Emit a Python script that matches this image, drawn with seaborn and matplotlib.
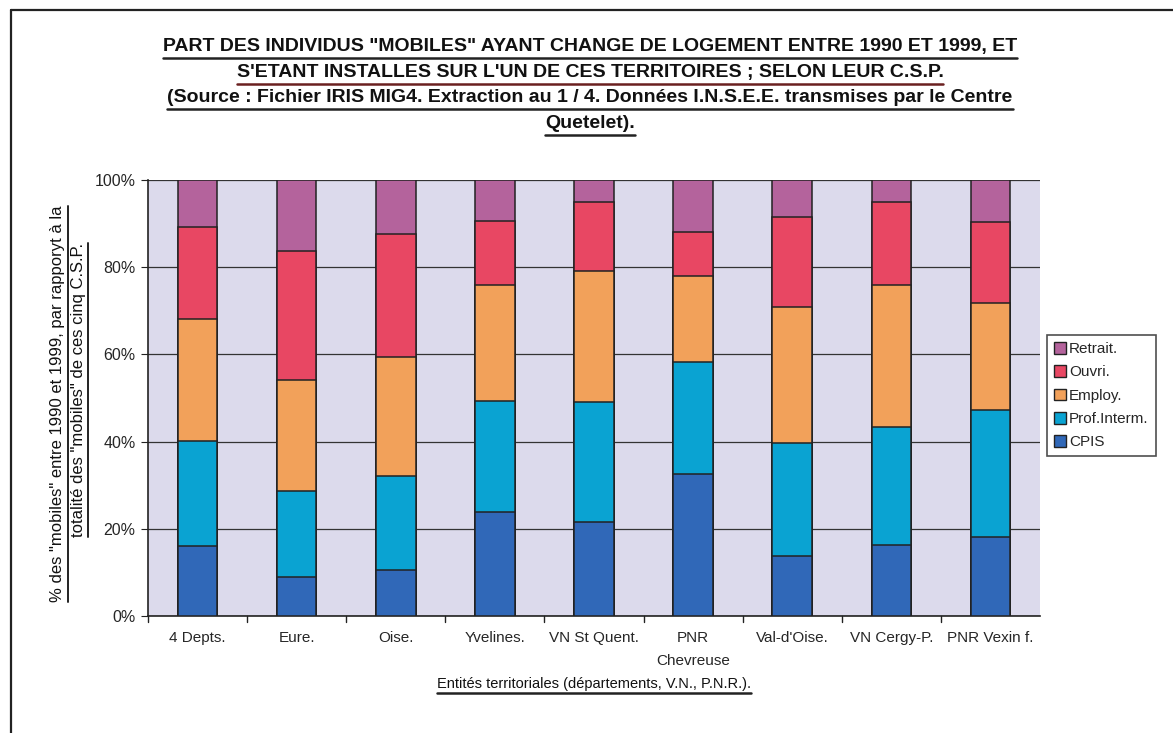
import matplotlib
matplotlib.use("Agg")
import matplotlib.pyplot as plt
from matplotlib.lines import Line2D
from matplotlib.patches import Rectangle
import seaborn as sns
import pandas as pd
import numpy as np

categories = ["4 Depts.", "Eure.", "Oise.", "Yvelines.", "VN St Quent.", "PNR\nChevreuse",
              "Val-d'Oise.", "VN Cergy-P.", "PNR Vexin f."]
series = ["CPIS", "Prof.Interm.", "Employ.", "Ouvri.", "Retrait."]
cpis = [16.1, 8.9, 10.6, 23.9, 21.6, 32.6, 13.8, 16.3, 18.1]
prof = [24.0, 19.8, 21.5, 25.4, 27.5, 25.7, 25.9, 27.0, 29.1]
employ = [28.0, 25.4, 27.3, 26.6, 30.0, 19.7, 31.2, 32.6, 24.6]
ouvri = [21.1, 29.6, 28.2, 14.7, 15.9, 10.1, 20.6, 19.1, 18.6]
retrait = [10.8, 16.3, 12.4, 9.4, 5.0, 11.9, 8.5, 5.0, 9.6]
colors = ["#3068B8", "#0AA3D2", "#F2A15A", "#E84763", "#B4639C"]
yticks = [0, 20, 40, 60, 80, 100]
ytick_labels = ["0%", "20%", "40%", "60%", "80%", "100%"]

values = [cpis, prof, employ, ouvri, retrait]
cum = np.cumsum(np.array(values), axis=0)

sns.set_style("white")
plt.rcParams['font.family'] = ['Liberation Sans', 'DejaVu Sans']

fig = plt.figure(figsize=(11.73, 7.33), dpi=100)
W, H = 1173, 733
ax = fig.add_axes([148 / W, 1 - 616 / H, 892 / W, 436 / H])
ax.set_facecolor("#DCDAEC")

# draw from top (largest cumulative) to bottom so that segments overlay
for i in range(len(series) - 1, -1, -1):
    df = pd.DataFrame({"cat": categories, "val": cum[i]})
    sns.barplot(data=df, x="cat", y="val", order=categories, color=colors[i],
                saturation=1, width=0.4, edgecolor="#222222", linewidth=1.1, ax=ax, zorder=3)

ax.set_ylim(0, 100)
ax.set_xlim(-0.5, len(categories) - 0.5)
ax.set_yticks(yticks)
ax.set_yticklabels(ytick_labels, fontsize=11.5)
ax.yaxis.grid(True, color="#333333", linewidth=0.9, zorder=1)
ax.set_axisbelow(True)
ax.set_xticks(range(len(categories)))
ax.set_xticklabels(categories, fontsize=11, linespacing=1.8)
ax.tick_params(axis="x", length=0, pad=11)
ax.tick_params(axis="y", length=5, direction="out", color="#222222", left=True, pad=4)
for b in np.arange(0.5, len(categories) - 0.5, 1.0):
    ax.plot([b, b], [0, -1.3], color="#222222", lw=1, clip_on=False, zorder=4)
ax.plot([-0.5, -0.5], [0, -1.3], color="#222222", lw=1, clip_on=False, zorder=4)
for s in ["left", "bottom"]:
    ax.spines[s].set_color("#222222")
    ax.spines[s].set_linewidth(1.2)
for s in ["top", "right"]:
    ax.spines[s].set_visible(False)
ax.set_xlabel("")
ax.set_ylabel("")

# legend
handles = [Rectangle((0, 0), 1, 1, facecolor=colors[i], edgecolor="#222222", lw=1)
           for i in range(len(series) - 1, -1, -1)]
labels = [series[i] for i in range(len(series) - 1, -1, -1)]
leg = fig.legend(handles, labels, loc="upper left", bbox_to_anchor=(1047 / W, 1 - 335 / H),
                 frameon=True, fancybox=False, edgecolor="#222222", fontsize=11,
                 handlelength=0.8, handleheight=0.8, handletextpad=0.2, borderpad=0.45,
                 labelspacing=0.6, borderaxespad=0)
leg.get_frame().set_linewidth(1.2)

# titles
tfam = ['Liberation Sans', 'DejaVu Sans']
title_lines = [
    ('PART DES INDIVIDUS "MOBILES" AYANT CHANGE DE LOGEMENT ENTRE 1990 ET 1999, ET', 47, "#222222"),
    ("S'ETANT INSTALLES SUR L'UN DE CES TERRITOIRES ; SELON LEUR C.S.P.", 73, "#6a2020"),
    ("(Source : Fichier IRIS MIG4. Extraction au 1 / 4. Données I.N.S.E.E. transmises par le Centre", 98, "#222222"),
    ("Quetelet).", 124, "#222222"),
]
texts = []
for t, y, c in title_lines:
    tx = fig.text(590 / W, 1 - y / H, t, ha="center", va="center", fontsize=14,
                  fontweight="bold", family=tfam, color="#111111")
    texts.append((tx, c))

xl = fig.text(594 / W, 1 - 684 / H, "Entités territoriales (départements, V.N., P.N.R.).",
              ha="center", va="center", fontsize=10.5, family=tfam, color="#111111")
texts.append((xl, "#222222"))

yl1 = fig.text(58 / W, 1 - 404 / H, '% des "mobiles" entre 1990 et 1999, par rapporyt à la',
               ha="center", va="center", rotation=90, fontsize=12, family=tfam, color="#111111")
yl2 = fig.text(78 / W, 1 - 390 / H, 'totalité des "mobiles" de ces cinq C.S.P.',
               ha="center", va="center", rotation=90, fontsize=12, family=tfam, color="#111111")

fig.canvas.draw()
r = fig.canvas.get_renderer()
inv = fig.transFigure.inverted()
for tx, c in texts:
    bb = tx.get_window_extent(r)
    (x0, y0) = inv.transform((bb.x0, bb.y0 - 2))
    (x1, _) = inv.transform((bb.x1, bb.y0 - 2))
    fig.add_artist(Line2D([x0, x1], [y0, y0], transform=fig.transFigure, color=c, lw=1.8))
for tx in [yl1, yl2]:
    bb = tx.get_window_extent(r)
    (x0, y0) = inv.transform((bb.x1 + 2, bb.y0))
    (_, y1) = inv.transform((bb.x1 + 2, bb.y1))
    fig.add_artist(Line2D([x0, x0], [y0, y1], transform=fig.transFigure, color="#222222", lw=1.4))

# outer frame (top and left edges only)
fig.add_artist(Line2D([11 / W, 1.0], [1 - 10 / H, 1 - 10 / H], transform=fig.transFigure,
                      color="#222222", lw=1.6))
fig.add_artist(Line2D([11 / W, 11 / W], [0.0, 1 - 10 / H], transform=fig.transFigure,
                      color="#222222", lw=1.6))

fig.savefig("out.png", dpi=100, facecolor="white")
